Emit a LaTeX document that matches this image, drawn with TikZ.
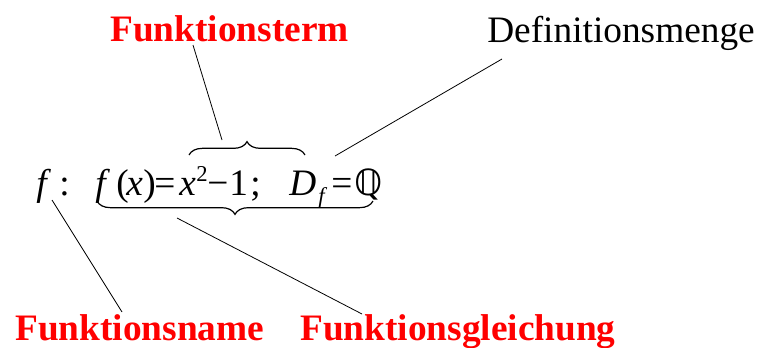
\documentclass[tikz,border=0pt]{standalone}
\usepackage{fontspec}
\setmainfont{Liberation Serif}
\newfontfamily\dejavu{DejaVu Sans}
\usetikzlibrary{decorations.pathreplacing,calc}

\tikzset{
  lbl/.style={anchor=base west,inner sep=0pt,font=\fontsize{28}{34}\selectfont\bfseries,text=red},
  sym/.style={anchor=base west,inner sep=0pt,font=\fontsize{28}{34}\selectfont\itshape},
  upr/.style={anchor=base west,inner sep=0pt,font=\fontsize{28}{34}\selectfont},
  small/.style={anchor=base west,inner sep=0pt,font=\fontsize{17}{20}\selectfont},
  pointer/.style={line width=0.6pt},
  bracebar/.style={line width=0.9pt,decorate,decoration={brace,amplitude=10}}
}

\begin{document}
\begin{tikzpicture}[x=0.75pt,y=-0.75pt]
\useasboundingbox (0,0) rectangle (757,347);
% labels
\node[lbl] (term) at (110,41) {Funktionsterm};
\node[upr] (dmenge) at (487,42) {Definitionsmenge};
\node[lbl] (fname) at (15,340) {Funktionsname};
\node[lbl] (fgl) at (300,340) {Funktionsgleichung};
% the function
\node[sym] (f) at (36,195) {f};
\node[upr] (colon) at (59,195) {:};
\node[sym] (f2) at (95,195) {f};
\node[upr] (lpar) at (116,195) {(};
\node[sym] (arg) at (126,195) {x};
\node[upr] (rpar) at (143,195) {)};
\node[upr] (eq) at (154,195) {=};
\node[sym] (xx) at (179,195) {x};
\node[small] (two) at (196,181) {2};
\node[upr] (minus) at (207,195) {−};
\node[upr] (one) at (229,195) {1};
\node[upr] (semi) at (250,195) {;};
\node[sym] (D) at (289,195) {D};
\node[small,font=\fontsize{17}{20}\selectfont\itshape] (sub) at (318,203) {f};
\node[upr] (eq2) at (331,195) {=};
\node[upr,font=\fontsize{27}{30}\selectfont\dejavu] (Q) at (354,195) {ℚ};
% braces
\coordinate (ubl) at (97,201);
\coordinate (ubr) at (373,201);
\coordinate (obl) at (189,155);
\coordinate (obr) at (305,155);
\draw[bracebar] (ubr) -- (ubl);
\draw[bracebar] (obl) -- (obr);
% pointers
\coordinate (termend) at (222,140);
\coordinate (dmend) at (335,156);
\coordinate (fnend) at (52,200);
\coordinate (fglend) at (177,218);
\coordinate (termtop) at (193,45);
\coordinate (dmtop) at (502,59);
\coordinate (fnbot) at (122,312);
\coordinate (fglbot) at (362,314);
\draw[pointer] (termtop) -- (termend);
\draw[pointer] (dmtop) -- (dmend);
\draw[pointer] (fnend) -- (fnbot);
\draw[pointer] (fglend) -- (fglbot);
\end{tikzpicture}
\end{document}
